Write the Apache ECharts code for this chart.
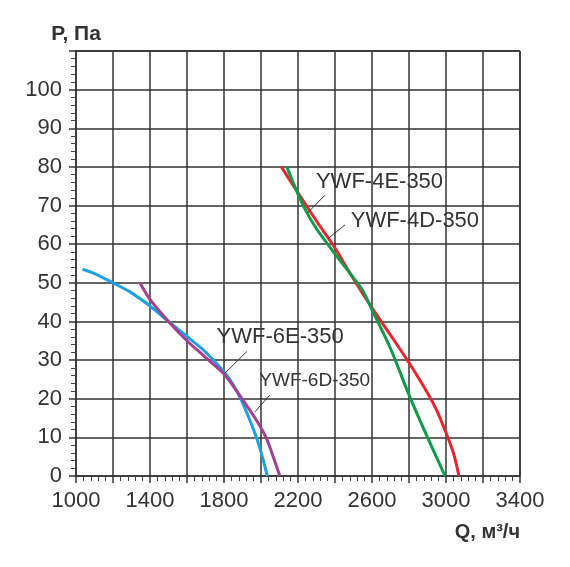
<!DOCTYPE html>
<html><head><meta charset="utf-8">
<script src="https://cdn.jsdelivr.net/npm/echarts@6/dist/echarts.min.js"></script>
<style>html,body{margin:0;padding:0;background:#fff}#c{width:570px;height:567px}</style>
</head><body><div id="c"></div>
<script>
// Data (Q in m3/h, P in Pa)
const ywf6E = [[1035,53.5],[1100,52.4],[1200,50],[1300,47.4],[1400,44],[1500,40],[1600,36.1],[1700,32.1],[1800,27],[1850,23.6],[1890,20],[1935,15],[1975,10],[2007,5],[2034,0]];
const ywf6D = [[1345,50],[1400,45.7],[1500,40],[1600,35],[1700,30.7],[1800,26.4],[1890,20.5],[1968,15],[2027,10],[2066,5],[2102,0]];
const ywf4E = [[2110,80],[2200,73.3],[2300,66],[2400,59],[2500,51],[2600,43.5],[2700,36.5],[2800,29.3],[2900,21.5],[2950,17],[3000,11.2],[3040,6],[3070,0]];
const ywf4D = [[2140,80],[2175,75.8],[2230,69.8],[2300,64],[2400,57.5],[2500,51.3],[2550,48],[2600,43],[2700,33],[2800,21],[2900,10],[2995,0]];
const seriesNames = ['YWF-6E-350','YWF-6D-350','YWF-4E-350','YWF-4D-350'];
const labelAnchors = [[1760,36.0],[1991,24.6],[2297,76.2],[2485,66.0]];
const leaders = [[[1805,26.6],[1923,32.2]],[[1967,16.6],[2049,21.0]],[[2250,68.0],[2346,72.7]],[[2364,61.5],[2454,65.0]]];
const labelSizes = [22,19,22,22];
const colors = ['#1da1e2','#a3418f','#e8242c','#109a4a'];
const xTicks = {min:1000,max:3400,step:200,labelStep:400};
const yTicks = {min:0,max:110,step:10};

const datas = [ywf6E, ywf6D, ywf4E, ywf4D];
const font = 'Liberation Sans, Arial, sans-serif';
const chart = echarts.init(document.getElementById('c'));
const series = datas.map((d,i)=>({
  name: seriesNames[i], type:'line', data:d, showSymbol:false, smooth:0.3,
  lineStyle:{color:colors[i], width:3}, z:3,
  markLine:{silent:true, symbol:'none', animation:false,
    lineStyle:{color:'#333', width:1, type:'solid'}, label:{show:false},
    data:[[{coord:leaders[i][0]},{coord:leaders[i][1]}]]},
  markPoint:{silent:true, symbol:'circle', symbolSize:0, animation:false,
    label:{show:true, position:'right', distance:0, formatter:seriesNames[i], color:'#333', fontSize:labelSizes[i], fontFamily:font},
    data:[{coord:labelAnchors[i]}]}
}));
chart.setOption({
  animation:false,
  grid:{left:76, right:50, top:51, bottom:91},
  xAxis:{type:'value', min:xTicks.min, max:xTicks.max, interval:xTicks.step,
    name:'Q, м³/ч', nameLocation:'end', nameGap:0,
    nameTextStyle:{fontWeight:'bold', fontSize:20, color:'#333', fontFamily:font, align:'right', verticalAlign:'top', padding:[46,0,0,0]},
    axisLine:{show:true, lineStyle:{color:'#333', width:1.5}},
    axisTick:{show:true, length:7, lineStyle:{color:'#333', width:1.5}},
    minorTick:{show:true, splitNumber:5, length:5, lineStyle:{color:'#444', width:1}},
    axisLabel:{fontSize:22, color:'#333', fontFamily:font, margin:14,
      formatter:v=>((v-xTicks.min)%xTicks.labelStep===0? String(v):'')},
    splitLine:{show:true, lineStyle:{color:'#333', width:1.5}}},
  yAxis:{type:'value', min:yTicks.min, max:yTicks.max, interval:yTicks.step,
    name:'P, Па', nameLocation:'end', nameGap:6,
    nameTextStyle:{fontWeight:'bold', fontSize:21, color:'#333', fontFamily:font, align:'center'},
    axisLine:{show:true, lineStyle:{color:'#333', width:1.5}},
    axisTick:{show:true, length:7, lineStyle:{color:'#333', width:1.5}},
    minorTick:{show:true, splitNumber:5, length:5, lineStyle:{color:'#444', width:1}},
    axisLabel:{fontSize:22, color:'#333', fontFamily:font, margin:14,
      formatter:v=>(v===yTicks.max?'':String(v))},
    splitLine:{show:true, lineStyle:{color:'#333', width:1.5}}},
  series: series.concat([{type:'line', data:[], markLine:{silent:true,symbol:'none',label:{show:false},lineStyle:{color:'#333',width:1.5,type:'solid'},
    data:[[{coord:[xTicks.min,yTicks.max]},{coord:[xTicks.max,yTicks.max]}],[{coord:[xTicks.max,yTicks.min]},{coord:[xTicks.max,yTicks.max]}]]}}])
});
</script></body></html>
